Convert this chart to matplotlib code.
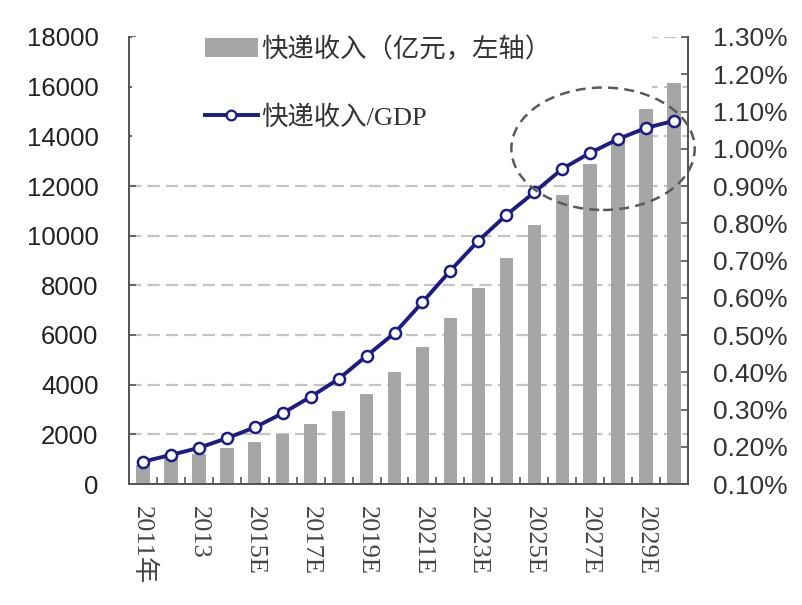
import matplotlib
matplotlib.use("Agg")
import matplotlib.pyplot as plt
from matplotlib.patches import Ellipse, Rectangle
from matplotlib.lines import Line2D
from matplotlib.ticker import FuncFormatter
import numpy as np

years = ['2011年', '2012', '2013', '2014', '2015E', '2016E', '2017E', '2018E', '2019E', '2020E',
         '2021E', '2022E', '2023E', '2024E', '2025E', '2026E', '2027E', '2028E', '2029E', '2030E']
revenue = [760, 1050, 1200, 1450, 1700, 2010, 2430, 2940, 3610, 4490,
           5520, 6690, 7910, 9120, 10410, 11630, 12880, 13950, 15100, 16150]
ratio = [0.160, 0.178, 0.197, 0.223, 0.252, 0.290, 0.334, 0.382, 0.444, 0.505,
         0.588, 0.673, 0.753, 0.822, 0.883, 0.946, 0.989, 1.026, 1.056, 1.075]
bar_label = '快递收入（亿元，左轴）'
line_label = '快递收入/GDP'

cjk_serif = ['Liberation Serif', 'Noto Sans CJK SC']
bar_color = '#a6a6a6'
line_color = '#1c1c84'

fig = plt.figure(figsize=(8.03, 6.05), dpi=100)
ax = fig.add_axes([129 / 803, 1 - 484 / 605, 559 / 803, 447 / 605])
ax2 = ax.twinx()

x = np.arange(len(years))
ax.bar(x, revenue, width=0.48, color=bar_color, zorder=2)
ax.set_xlim(-0.5, len(years) - 0.5)
ax.set_ylim(0, 18000)
ax.set_yticks(np.arange(0, 18001, 2000))
ax.set_axisbelow(True)
ax.yaxis.grid(True, color='#c4c4c4', linewidth=1.6, linestyle=(0, (5.5, 2.8)))
# white area behind the legend hides the upper gridlines
ax.add_patch(Rectangle((0.005, 0.745), 0.93, 0.26, transform=ax.transAxes,
                       facecolor='white', edgecolor='none', zorder=1))

ax2.plot(x, ratio, color=line_color, linewidth=2.8, marker='o', markersize=8,
         markerfacecolor='white', markeredgecolor=line_color, markeredgewidth=1.8, zorder=3)
ax2.set_ylim(0.1, 1.3)
ax2.set_yticks(np.arange(0.1, 1.301, 0.1))
ax2.yaxis.set_major_formatter(FuncFormatter(lambda v, p: f'{v:.2f}%'))

ell = Ellipse((16.46, 13500), 6.56, 4930, fill=False, edgecolor='#5a5a5a',
              linewidth=1.8, linestyle=(0, (4, 2.5)), transform=ax.transData,
              zorder=6, clip_on=False)
ax2.add_patch(ell)

# x ticks: marks at boundaries, labels every second year
ax.set_xticks(np.arange(-0.5, len(years) - 0.4, 1))
ax.set_xticklabels([])
ax.set_xticks(x[::2], minor=True)
ax.set_xticklabels(years[::2], minor=True, rotation=-90, fontsize=19,
                   family=cjk_serif, color='#444444')
ax.tick_params(axis='x', which='major', direction='in', length=5, width=1.2, color='#555555')
ax.tick_params(axis='x', which='minor', length=0, pad=16)

ax.tick_params(axis='y', direction='in', length=5, width=1.2, color='#555555',
               labelsize=18.5, labelcolor='#222222', pad=22)
ax2.tick_params(axis='y', direction='in', length=5, width=1.2, color='#555555',
                labelsize=19, labelcolor='#333333', pad=18)
for a in (ax, ax2):
    for lbl in a.get_yticklabels():
        lbl.set_family('Liberation Sans')
    a.spines['top'].set_visible(False)
    for s in ('left', 'right', 'bottom'):
        a.spines[s].set_color('#555555')
        a.spines[s].set_linewidth(1.3)

handles = [Rectangle((0, 0), 1, 1, facecolor=bar_color, edgecolor='none'),
           Line2D([], [], color=line_color, linewidth=2.8, marker='o', markersize=7,
                  markerfacecolor='white', markeredgecolor=line_color, markeredgewidth=1.6)]
leg = ax2.legend(handles, [bar_label, line_label], loc='upper left',
                 bbox_to_anchor=(0.093, 1.055), frameon=False, handlelength=2.0,
                 handleheight=0.75, handletextpad=0.15, labelspacing=1.65,
                 prop={'family': cjk_serif, 'size': 19})
for t in leg.get_texts():
    t.set_color('#333333')

fig.savefig('out.png', dpi=100)
